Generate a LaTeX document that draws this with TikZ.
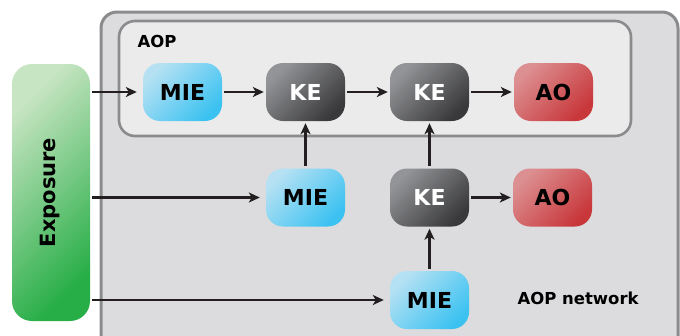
\documentclass[tikz,border=0pt]{standalone}
\usepackage{fontspec}
\setmainfont{DejaVu Sans}
\usetikzlibrary{arrows.meta}
\definecolor{outerfill}{HTML}{DCDCDE}
\definecolor{innerfill}{HTML}{EBEBEC}
\definecolor{boxline}{HTML}{8A8B8D}
\definecolor{arrowc}{HTML}{231F20}
\definecolor{mieA}{HTML}{B5E1F3}
\definecolor{mieB}{HTML}{3CC2F1}
\definecolor{keA}{HTML}{939497}
\definecolor{keB}{HTML}{39393B}
\definecolor{aoA}{HTML}{DC8F91}
\definecolor{aoB}{HTML}{C8373A}
\definecolor{exA}{HTML}{C8E5C3}
\definecolor{exB}{HTML}{27AE47}
\begin{document}
\begin{tikzpicture}[x=1pt,y=-1pt,
  every node/.style={font=\bfseries},
  evbox/.style={rounded corners=17pt, minimum width=79pt, minimum height=58pt, inner sep=0pt, font=\fontsize{22}{22}\bfseries\selectfont},
  mie/.style={evbox, top color=mieA, bottom color=mieB, shading angle=45, text=black},
  ke/.style={evbox, top color=keA, bottom color=keB, shading angle=45, text=white},
  ao/.style={evbox, top color=aoA, bottom color=aoB, shading angle=45, text=black},
  arr/.style={draw=arrowc, line width=2.8pt, -{Stealth[length=11pt,width=10pt,inset=3pt]}, shorten >=2pt, shorten <=2pt}
]
\useasboundingbox (0,0) rectangle (680,335);
% outer network box
\begin{scope}
\clip (0,0) rectangle (680,335);
\draw[draw=boxline, fill=outerfill, line width=3pt, rounded corners=16pt] (101,12) rectangle (678,360);
\end{scope}
% inner AOP box
\draw[draw=boxline, fill=innerfill, line width=2.6pt, rounded corners=16pt] (119,21) rectangle (631,136);
\node[anchor=west, font=\fontsize{16.5}{16.5}\bfseries\selectfont] (aoplab) at (134,41) {AOP};
\node[anchor=west, font=\fontsize{16.5}{16.5}\bfseries\selectfont] (netlab) at (514,298) {AOP network};
% exposure
\node[rounded corners=20pt, minimum width=78pt, minimum height=257pt, inner sep=0pt,
  top color=exA, bottom color=exB, shading angle=45] (exp) at (51,192.5) {};
\node[rotate=90, font=\fontsize{21}{21}\bfseries\selectfont] (exptext) at (50,192.5) {Exposure};
% events
\node[mie] (mie1) at (182.5,92) {MIE};
\node[ke]  (ke1)  at (305.5,92) {KE};
\node[ke]  (ke2)  at (429.5,92) {KE};
\node[ao]  (ao1)  at (553.5,92) {AO};
\node[mie] (mie2) at (305.5,197.5) {MIE};
\node[ke]  (ke3)  at (429.5,197.5) {KE};
\node[ao]  (ao2)  at (552.5,197.5) {AO};
\node[mie] (mie3) at (429.5,300) {MIE};
% connectors
\coordinate (e1) at (exp.east |- mie1);
\coordinate (e2) at (exp.east |- mie2);
\coordinate (e3) at (exp.east |- mie3);
\draw[arr, shorten >=6pt] (e1) -- (mie1.west);
\draw[arr, shorten >=6pt] (e2) -- (mie2.west);
\draw[arr, shorten >=6pt] (e3) -- (mie3.west);
\draw[arr] (mie1) -- (ke1);
\draw[arr] (ke1) -- (ke2);
\draw[arr] (ke2) -- (ao1);
\draw[arr] (mie2) -- (ke1);
\draw[arr] (ke3) -- (ke2);
\draw[arr] (mie3) -- (ke3);
\draw[arr] (ke3) -- (ao2);
\end{tikzpicture}
\end{document}
